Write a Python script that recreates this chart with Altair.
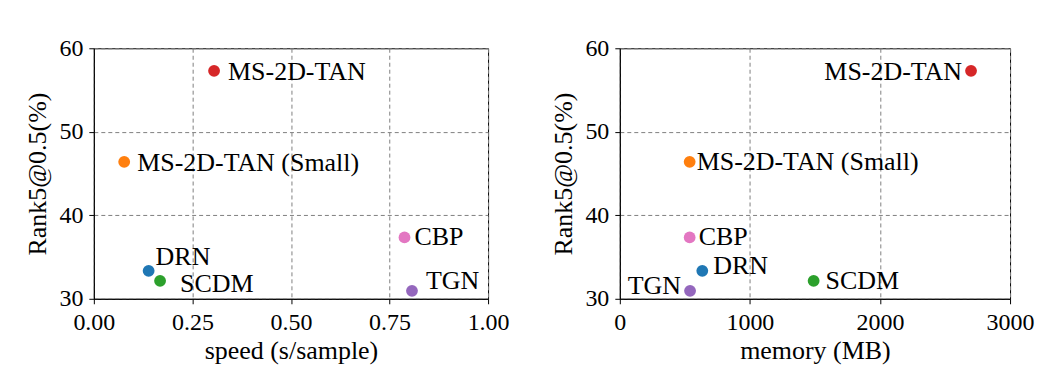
import altair as alt
import pandas as pd

methods = ["MS-2D-TAN", "MS-2D-TAN (Small)", "DRN", "SCDM", "CBP", "TGN"]
rank5 = [57.3, 46.4, 33.35, 32.15, 37.35, 30.95]
speed = [0.305, 0.077, 0.139, 0.168, 0.788, 0.807]
memory = [2700, 537, 634, 1490, 537, 540]
colors = ["#d62728", "#ff7f0e", "#1f77b4", "#2ca02c", "#e377c2", "#9467bd"]

speed_ticks = [0.0, 0.25, 0.5, 0.75, 1.0]
memory_ticks = [0, 1000, 2000, 3000]
rank_ticks = [30, 40, 50, 60]

df = pd.DataFrame({"method": methods, "rank5": rank5, "speed": speed, "memory": memory})

FONT = "Liberation Serif"

# label placement (style): method -> (align, dx, dy)
left_offsets = {
    "MS-2D-TAN": ("left", 14, 1),
    "MS-2D-TAN (Small)": ("left", 13, 1),
    "DRN": ("left", 7, -14),
    "SCDM": ("left", 20, 3),
    "CBP": ("left", 10, 0),
    "TGN": ("left", 14, -10),
}
right_offsets = {
    "MS-2D-TAN": ("right", -9, 1),
    "MS-2D-TAN (Small)": ("left", 7, 0),
    "DRN": ("left", 11, -5),
    "SCDM": ("left", 12, 0),
    "CBP": ("left", 9, 0),
    "TGN": ("right", -9, -5),
}


def panel(xfield, xdomain, xticks, xfmt, xtitle, offsets, width):
    base = alt.Chart(df)
    xenc = alt.X(
        xfield,
        type="quantitative",
        scale=alt.Scale(domain=xdomain, nice=False, zero=False),
        axis=alt.Axis(values=xticks, format=xfmt, title=xtitle),
    )
    yenc = alt.Y(
        "rank5",
        type="quantitative",
        scale=alt.Scale(domain=[30, 60], nice=False, zero=False),
        axis=alt.Axis(values=rank_ticks, title="Rank5@0.5(%)"),
    )
    pts = base.mark_circle(size=140, opacity=1).encode(
        x=xenc,
        y=yenc,
        color=alt.Color("method:N", scale=alt.Scale(domain=methods, range=colors), legend=None),
    )
    layers = [pts]
    for m in methods:
        align, dx, dy = offsets[m]
        layers.append(
            base.transform_filter(alt.datum.method == m)
            .mark_text(align=align, baseline="middle", dx=dx, dy=dy, fontSize=26, font=FONT, color="black")
            .encode(x=xenc, y=yenc, text="method:N")
        )
    return alt.layer(*layers).properties(width=width, height=251)


left = panel("speed", [0, 1], speed_ticks, ".2f", "speed (s/sample)", left_offsets, 395)
right = panel("memory", [0, 3000], memory_ticks, "d", "memory (MB)", right_offsets, 391)

chart = (
    alt.hconcat(left, right, spacing=40)
    .resolve_scale(x="independent", y="independent")
    .properties(padding={"left": 16, "top": 27, "right": 5, "bottom": 5})
    .configure_axis(
        labelFont=FONT,
        titleFont=FONT,
        labelFontSize=24,
        titleFontSize=26,
        titleFontWeight="normal",
        labelColor="black",
        titleColor="black",
        domainColor="black",
        tickColor="black",
        gridColor="#808080",
        gridDash=[4, 3],
        gridWidth=1,
        tickSize=5,
        labelFlush=False,
        labelOverlap=False,
    )
    .configure_axisX(labelPadding=7, titlePadding=3)
    .configure_axisY(labelPadding=6, titlePadding=8)
    .configure_view(stroke="black", strokeWidth=1)
)

chart.save("out.html", embed_options={"renderer": "svg", "actions": False})
